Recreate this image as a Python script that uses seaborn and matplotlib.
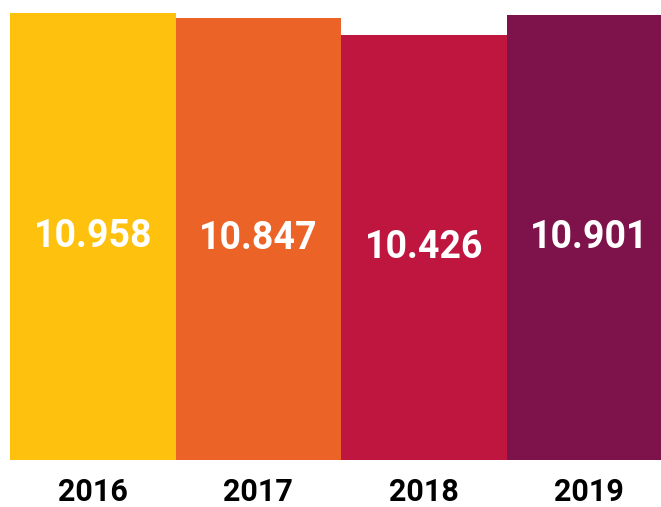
import matplotlib
matplotlib.use("Agg")
import matplotlib.pyplot as plt
import seaborn as sns
import pandas as pd

years = ["2016", "2017", "2018", "2019"]
values = [10.958, 10.847, 10.426, 10.901]
colors = ["#FDC10E", "#EC6327", "#BE163F", "#7D134A"]

sns.set_theme(style="white")
plt.rcParams["font.family"] = ["Roboto", "DejaVu Sans"]

df = pd.DataFrame({"year": years, "value": values})

fig = plt.figure(figsize=(6.61, 5.07), dpi=100)
ax = fig.add_axes([10/661, 47/507, 662/661, 460/507])

sns.barplot(data=df, x="year", y="value", hue="year", palette=colors,
            width=1.0, dodge=False, legend=False, ax=ax, linewidth=0,
            saturation=1)

for cont in ax.containers:
    ax.bar_label(cont, fmt="%.3f", label_type="center", color="white",
                 fontsize=27, fontweight="bold")

ax.set_xlim(-0.5, 3.5)
ax.set_ylim(0, 10.958 * 460 / 447)
ax.set_xlabel("")
ax.set_ylabel("")
ax.set_yticks([])
ax.tick_params(axis="x", length=0, pad=12, labelsize=22, colors="black")
for lbl in ax.get_xticklabels():
    lbl.set_fontweight("bold")
for s in ax.spines.values():
    s.set_visible(False)

fig.savefig("out.png", dpi=100)
